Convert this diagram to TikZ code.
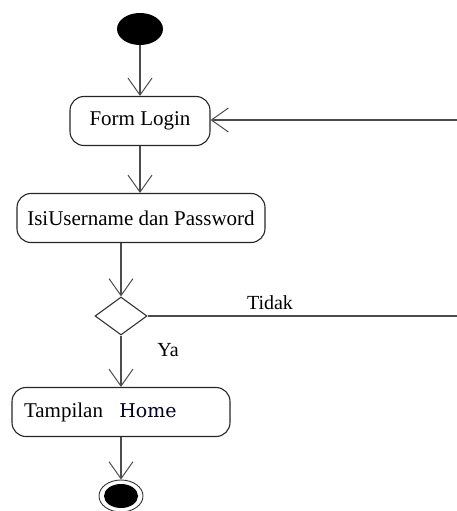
\documentclass[tikz,border=0pt]{standalone}
\usepackage{fontspec}
\setmainfont{Liberation Serif}
\newfontfamily\homefont{DejaVu Serif}
\usepackage{tikz}
\usetikzlibrary{arrows.meta}
\usetikzlibrary{shapes.geometric}
\usetikzlibrary{positioning}
\colorlet{linecol}{black!70}
\colorlet{homecol}{black!85!blue}
\tikzstyle{activity}=[draw=black!85,line width=1.1,rounded corners=14,minimum height=49,inner xsep=6,font=\fontsize{21}{23}\selectfont]
\tikzstyle{startnode}=[ellipse,fill=black,minimum width=46,minimum height=32,inner sep=0]
\tikzstyle{endnode}=[ellipse,draw=black!80,line width=0.9,minimum width=44,minimum height=32,inner sep=0]
\tikzstyle{decision}=[diamond,draw=black!80,line width=1.1,minimum width=52,minimum height=38,inner sep=0]
\tikzstyle{flow}=[-{Straight Barb[length=17pt,width=24pt,line width=1pt]},linecol,line width=1.3]
\tikzstyle{plain}=[linecol,line width=1.3]
\tikzstyle{guard}=[font=\fontsize{20}{22}\selectfont]

\begin{document}
\begin{tikzpicture}[x=1pt,y=-1pt]
  \useasboundingbox (0,0) rectangle (457,511);

  % NODES
  \node[startnode] (start) at (140,29) {};
  \node[activity,minimum width=140] (form) at (140,121) {Form Login};
  \node[activity,minimum width=248] (isi) at (141,218) {IsiUsername dan Password};
  \node[decision] (cek) at (121,316) {};
  \node[activity,minimum width=218,text width=194,align=left] (home) at (121,412)
    {Tampilan\;\, {\homefont\fontsize{19}{21}\selectfont\color{homecol}Home}};
  \node[endnode] (stop) at (121,496) {};
  \fill (stop.center) ellipse (17 and 12);

  % LABELS
  \node[guard] (tidak) at (270,303) {Tidak};
  \node[guard] (ya) at (168,350) {Ya};

  % FLOWS
  \coordinate (balik) at (460,120);
  \coordinate (tepi) at (460,316);
  \draw[flow] (start) -- (form);
  \draw[flow] (form.south) -- (form.south |- isi.north);
  \draw[flow] (cek |- isi.south) -- (cek.north);
  \draw[flow] (cek.south) -- (home.north -| cek);
  \draw[flow] (home.south -| stop) -- (stop.north);
  \draw[plain] (cek.east) -- (tepi);
  \draw[flow] (balik) -- (form.east |- balik);
\end{tikzpicture}
\end{document}
